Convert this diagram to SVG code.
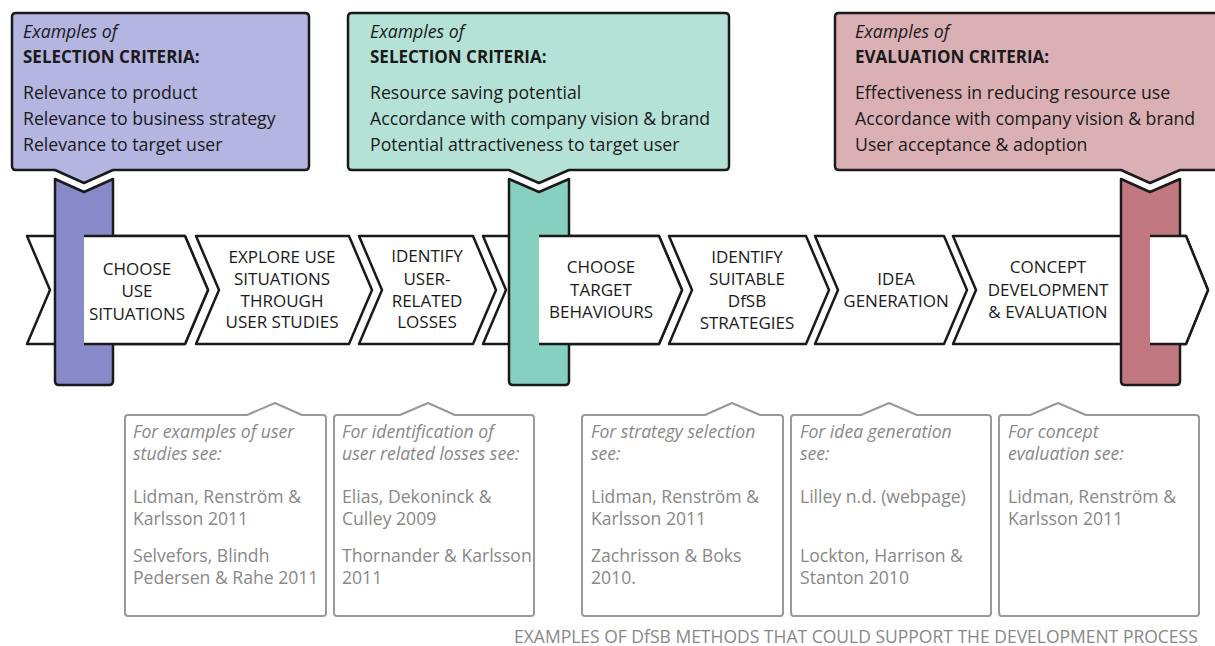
<svg xmlns="http://www.w3.org/2000/svg" width="1215" height="646" viewBox="0 0 1215 646">
<style>
.crit{stroke:#1a1a1a;stroke-width:2.5;stroke-linejoin:round}
.chev{fill:#fff;stroke:#1a1a1a;stroke-width:2.5;stroke-linejoin:round}
.cover{fill:#fff;stroke:none}
.edge{fill:none;stroke:#1a1a1a;stroke-width:2.5;stroke-linejoin:round}
.ref{fill:#fff;stroke:#999;stroke-width:2;stroke-linejoin:round}
.t{font-family:"Open Sans","Noto Sans",sans-serif;font-size:17.7px;fill:#1a1a1a}
.it{font-style:italic}
.b{font-weight:bold;font-size:17px}
.ct{font-family:"Open Sans","Noto Sans",sans-serif;font-size:17px;fill:#1a1a1a;text-anchor:middle}
.g{font-family:"Open Sans","Noto Sans",sans-serif;font-size:17.6px;fill:#888}
.foot{font-family:"Open Sans","Noto Sans",sans-serif;font-size:17.5px;fill:#888}
</style>

<g id="criteria-1">
<path class="crit" fill="#b4b5e0" d="M16,13 H305 Q309,13 309,17 V166 Q309,170 305,170 H113 L84,183 L55,170 H16 Q12,170 12,166 V17 Q12,13 16,13 Z"/>
<text class="t it" x="23" y="38">Examples of</text>
<text class="t b" x="23" y="63">SELECTION CRITERIA:</text>
<text class="t" x="23" y="99">Relevance to product</text>
<text class="t" x="23" y="125">Relevance to business strategy</text>
<text class="t" x="23" y="151">Relevance to target user</text>
</g>

<g id="criteria-2">
<path class="crit" fill="#b5e2d7" d="M352,13 H725 Q729,13 729,17 V166 Q729,170 725,170 H569 L539,183 L509,170 H352 Q348,170 348,166 V17 Q348,13 352,13 Z"/>
<text class="t it" x="370" y="38">Examples of</text>
<text class="t b" x="370" y="63">SELECTION CRITERIA:</text>
<text class="t" x="370" y="99">Resource saving potential</text>
<text class="t" x="370" y="125">Accordance with company vision &amp; brand</text>
<text class="t" x="370" y="151">Potential attractiveness to target user</text>
</g>

<g id="criteria-3">
<path class="crit" fill="#dbb0b5" d="M839,13 H1225 V170 H1180 L1150,183 L1121,170 H839 Q835,170 835,166 V17 Q835,13 839,13 Z"/>
<text class="t it" x="855" y="38">Examples of</text>
<text class="t b" x="855" y="63">EVALUATION CRITERIA:</text>
<text class="t" x="855" y="99">Effectiveness in reducing resource use</text>
<text class="t" x="855" y="125">Accordance with company vision &amp; brand</text>
<text class="t" x="855" y="151">User acceptance &amp; adoption</text>
</g>

<g id="step-1"><path class="chev" d="M27,236 H185 L208,290 L185,344 H27 L50,290 Z"/></g>
<g id="step-2"><path class="chev" d="M196,236 H349 L372,290 L349,344 H196 L219,290 Z"/></g>
<g id="step-3"><path class="chev" d="M359,236 H473 L496,290 L473,344 H359 L382,290 Z"/></g>
<g id="step-4"><path class="chev" d="M483,236 H659 L682,290 L659,344 H483 L506,290 Z"/></g>
<g id="step-5"><path class="chev" d="M669,236 H806 L829,290 L806,344 H669 L692,290 Z"/></g>
<g id="step-6"><path class="chev" d="M815,236 H944 L967,290 L944,344 H815 L838,290 Z"/></g>
<g id="step-7"><path class="chev" d="M953,236 H1186 L1208,290 L1186,344 H953 L976,290 Z"/></g>

<g id="gate-1">
<path class="crit" fill="#8789c9" d="M55,179 L84,192 L113,179 V381 Q113,385 109,385 H59 Q55,385 55,381 Z"/>
<path class="cover" d="M84,237 H185 L208,290 L185,343 H84 Z"/>
<path class="edge" d="M84,236 H185 L208,290 L185,344 H84"/>
</g>
<g id="gate-2">
<path class="crit" fill="#86d0c0" d="M509,179 L539,192 L569,179 V381 Q569,385 565,385 H513 Q509,385 509,381 Z"/>
<path class="cover" d="M539,237 H659 L682,290 L659,343 H539 Z"/>
<path class="edge" d="M539,236 H659 L682,290 L659,344 H539"/>
</g>
<g id="gate-3">
<path class="crit" fill="#c17881" d="M1121,179 L1150,192 L1180,179 V381 Q1180,385 1176,385 H1125 Q1121,385 1121,381 Z"/>
<path class="cover" d="M1150,237 H1186 L1208,290 L1186,343 H1150 Z"/>
<path class="edge" d="M1150,236 H1186 L1208,290 L1186,344 H1150"/>
</g>

<g id="step-labels">
<text class="ct" x="137" y="275">CHOOSE</text>
<text class="ct" x="137" y="297">USE</text>
<text class="ct" x="137" y="320">SITUATIONS</text>
<text class="ct" x="282" y="263">EXPLORE USE</text>
<text class="ct" x="282" y="285">SITUATIONS</text>
<text class="ct" x="282" y="307">THROUGH</text>
<text class="ct" x="282" y="328">USER STUDIES</text>
<text class="ct" x="427" y="262">IDENTIFY</text>
<text class="ct" x="427" y="285">USER-</text>
<text class="ct" x="427" y="307">RELATED</text>
<text class="ct" x="427" y="328">LOSSES</text>
<text class="ct" x="601" y="273">CHOOSE</text>
<text class="ct" x="601" y="296">TARGET</text>
<text class="ct" x="601" y="318">BEHAVIOURS</text>
<text class="ct" x="747" y="263">IDENTIFY</text>
<text class="ct" x="747" y="285">SUITABLE</text>
<text class="ct" x="747" y="307">DfSB</text>
<text class="ct" x="747" y="329">STRATEGIES</text>
<text class="ct" x="896" y="285">IDEA</text>
<text class="ct" x="896" y="307">GENERATION</text>
<text class="ct" x="1048" y="273">CONCEPT</text>
<text class="ct" x="1048" y="296">DEVELOPMENT</text>
<text class="ct" x="1048" y="318">&amp; EVALUATION</text>
</g>

<g id="methods-1">
<path class="ref" d="M128,415 H247 L275,403 L302,415 H323 Q326,415 326,418 V613 Q326,616 323,616 H128 Q125,616 125,613 V418 Q125,415 128,415 Z"/>
<text class="g it" x="133" y="438">For examples of user</text>
<text class="g it" x="133" y="460">studies see:</text>
<text class="g" x="133" y="503">Lidman, Renström &amp;</text>
<text class="g" x="133" y="525">Karlsson 2011</text>
<text class="g" x="133" y="562">Selvefors, Blindh</text>
<text class="g" x="133" y="584">Pedersen &amp; Rahe 2011</text>
</g>
<g id="methods-2">
<path class="ref" d="M337,415 H400 L428,403 L455,415 H531 Q534,415 534,418 V613 Q534,616 531,616 H337 Q334,616 334,613 V418 Q334,415 337,415 Z"/>
<text class="g it" x="342" y="438">For identification of</text>
<text class="g it" x="342" y="460">user related losses see:</text>
<text class="g" x="342" y="503">Elias, Dekoninck &amp;</text>
<text class="g" x="342" y="525">Culley 2009</text>
<text class="g" x="342" y="562">Thornander &amp; Karlsson</text>
<text class="g" x="342" y="584">2011</text>
</g>
<g id="methods-3">
<path class="ref" d="M585,415 H705 L732,403 L760,415 H780 Q783,415 783,418 V613 Q783,616 780,616 H585 Q582,616 582,613 V418 Q582,415 585,415 Z"/>
<text class="g it" x="591" y="438">For strategy selection</text>
<text class="g it" x="591" y="460">see:</text>
<text class="g" x="591" y="503">Lidman, Renström &amp;</text>
<text class="g" x="591" y="525">Karlsson 2011</text>
<text class="g" x="591" y="562">Zachrisson &amp; Boks</text>
<text class="g" x="591" y="584">2010.</text>
</g>
<g id="methods-4">
<path class="ref" d="M794,415 H861 L889,403 L917,415 H988 Q991,415 991,418 V613 Q991,616 988,616 H794 Q791,616 791,613 V418 Q791,415 794,415 Z"/>
<text class="g it" x="800" y="438">For idea generation</text>
<text class="g it" x="800" y="460">see:</text>
<text class="g" x="800" y="503">Lilley n.d. (webpage)</text>
<text class="g" x="800" y="562">Lockton, Harrison &amp;</text>
<text class="g" x="800" y="584">Stanton 2010</text>
</g>
<g id="methods-5">
<path class="ref" d="M1002,415 H1030 L1058,403 L1086,415 H1196 Q1199,415 1199,418 V613 Q1199,616 1196,616 H1002 Q999,616 999,613 V418 Q999,415 1002,415 Z"/>
<text class="g it" x="1008" y="438">For concept</text>
<text class="g it" x="1008" y="460">evaluation see:</text>
<text class="g" x="1008" y="503">Lidman, Renström &amp;</text>
<text class="g" x="1008" y="525">Karlsson 2011</text>
</g>

<text class="foot" x="514" y="643">EXAMPLES OF DfSB METHODS THAT COULD SUPPORT THE DEVELOPMENT PROCESS</text>
</svg>
